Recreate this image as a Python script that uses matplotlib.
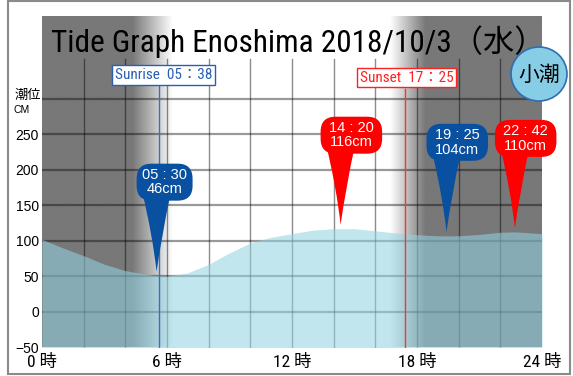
import numpy as np
import matplotlib.pyplot as plt
import matplotlib.transforms as mtransforms
from matplotlib.patches import FancyBboxPatch, PathPatch, Ellipse, Rectangle
from matplotlib.path import Path

# tide curve (hour, cm)
hours = [0, 1, 2, 3, 4, 5, 5.5, 6, 7, 8, 9, 10, 11, 12, 13, 14, 14.5,
         15, 16, 17, 18, 19, 19.5, 20, 21, 22, 22.7, 23, 24]
tide_cm = [102, 90, 79, 67, 58, 53, 51, 50, 55, 67, 83, 97, 105, 110, 115, 117, 117,
           117, 114, 111, 108.5, 107, 107, 107, 109, 112, 112.5, 112, 110]

# high / low tide labels
peak_hours = [5.5, 14 + 20 / 60, 19 + 25 / 60, 22 + 42 / 60]
peak_times = ['05 : 30', '14 : 20', '19 : 25', '22 : 42']
peak_cm = [46, 116, 104, 110]
peak_kind = ['low', 'high', 'low', 'high']

sunrise = 5 + 38 / 60
sunset = 17 + 25 / 60

xtick_vals = [0, 6, 12, 18, 24]
xtick_labels = ['0 時', '6 時', '12 時', '18 時', '24 時']
ytick_vals = [-50, 0, 50, 100, 150, 200, 250]
ytick_labels = ['−50', '0', '50', '100', '150', '200', '250']

NARROW = ['Roboto Condensed', 'Liberation Sans Narrow', 'Liberation Sans', 'Noto Sans CJK JP']
SANS = ['Liberation Sans', 'Noto Sans CJK JP']
CJK = ['Noto Sans CJK JP', 'DejaVu Sans']

W, H = 573, 376
fig = plt.figure(figsize=(W / 100, H / 100), dpi=100)
ax = fig.add_axes([42 / W, 1 - 347.5 / H, 500 / W, 331.5 / H])
YTOP = 416

# day / night shading
dark = 0.47
xs = np.linspace(0, 24, 800)
shade = np.interp(xs, [0, sunrise - 1.3, sunrise + 0.65, sunset - 0.7, sunset + 1.0, 24],
                  [dark, dark, 1, 1, dark, dark])
ax.imshow(shade[None, :], extent=[0, 24, -50, YTOP], aspect='auto', cmap='gray',
          vmin=0, vmax=1, zorder=0, interpolation='bilinear')

# grid
for h in range(2, 24, 2):
    ax.plot([h, h], [-50, 355], color='k', alpha=0.45, lw=1, zorder=1)
for v in range(0, 301, 50):
    ax.axhline(v, color='k', alpha=0.4, lw=1.6, zorder=1)

# water
ax.fill_between(hours, tide_cm, -50, color='#92d3e2', alpha=0.57, lw=0, zorder=2)

# sunrise / sunset
ax.plot([sunrise, sunrise], [-50, 318], color='#3a6fc0', lw=1, zorder=3)
ax.plot([sunset, sunset], [-50, 314], color='#ff3030', lw=1, zorder=3)
ax.text(sunrise + 0.2, 333, 'Sunrise  05：38', ha='center', va='center', color='#2a5fb0',
        fontsize=11, family=NARROW, zorder=6,
        bbox=dict(boxstyle='square,pad=0.17', fc='white', ec='#2a5fb0', lw=1))
ax.text(sunset + 0.1, 329, 'Sunset  17：25', ha='center', va='center', color='#ff2020',
        fontsize=11, family=NARROW, zorder=6,
        bbox=dict(boxstyle='square,pad=0.17', fc='white', ec='#ff2020', lw=1))


def p(a):
    return a / 100.0


def balloon(t, time_txt, cm, kind):
    color = '#0a50a0' if kind == 'low' else '#ff0000'
    v = np.interp(t, hours, tide_cm)
    tr = fig.dpi_scale_trans + mtransforms.ScaledTranslation(t, v, ax.transData)
    tip = 4
    verts = [(p(-14), p(tip + 78)), (p(-4), p(tip + 36)), (p(0), p(tip)),
             (p(5), p(tip + 36)), (p(14), p(tip + 78)), (p(-14), p(tip + 78))]
    codes = [Path.MOVETO, Path.CURVE3, Path.CURVE3, Path.CURVE3, Path.CURVE3, Path.CLOSEPOLY]
    ax.add_patch(PathPatch(Path(verts, codes), fc=color, ec='none', transform=tr,
                           zorder=4, clip_on=False))
    label = f'{cm}cm'
    w = 34 + 5.5 * len(label)
    bh = 37
    ax.add_patch(FancyBboxPatch((p(-20), p(tip + 71)), p(w), p(bh),
                                boxstyle=f'round,pad=0,rounding_size={p(15)}',
                                fc=color, ec='none', transform=tr, zorder=4, clip_on=False))
    ax.text(p(-20 + w / 2), p(tip + 71 + bh / 2), f'{time_txt}\n{label}', transform=tr,
            ha='center', va='center', color='white', fontsize=10.5, family=SANS,
            linespacing=1.05, zorder=5, clip_on=False)


for t, tt, cm, k in zip(peak_hours, peak_times, peak_cm, peak_kind):
    balloon(t, tt, cm, k)

ax.set_xlim(0, 24)
ax.set_ylim(-50, YTOP)
ax.set_xticks(xtick_vals, labels=xtick_labels)
ax.set_yticks(ytick_vals, labels=ytick_labels)
ax.tick_params(axis='x', length=0, pad=4.5, labelsize=12.5)
ax.tick_params(axis='y', length=0, pad=2.2, labelsize=10)
for lab in ax.get_xticklabels():
    lab.set_family(NARROW)
for lab in ax.get_yticklabels():
    lab.set_family(SANS)
for s in ax.spines.values():
    s.set_visible(False)

# title and side labels
fig.text(298 / W, 1 - 52 / H, 'Tide Graph Enoshima 2018/10/3（水）', ha='center',
         va='baseline', fontsize=22.5, family=NARROW)
fig.text(28 / W, 1 - 96 / H, '潮位', ha='center', va='center', fontsize=9.5, family=CJK)
fig.text(14 / W, 1 - 110 / H, 'CM', ha='left', va='center', fontsize=7.5, family=SANS)

# spring/neap badge
fig.add_artist(Ellipse((539 / W, 1 - 74 / H), 56 / W, 54 / H, transform=fig.transFigure,
                       fc='#87cde6', ec='#2e6db4', lw=1.2, zorder=5))
fig.text(539 / W, 1 - 75 / H, '小潮', ha='center', va='center', fontsize=15,
         family=CJK, zorder=6)

# outer frame
fig.add_artist(Rectangle((8 / W, 1 - 374 / H), 562 / W, 373 / H, transform=fig.transFigure,
                         fill=False, ec='#8a8a8a', lw=1.5, zorder=7))

fig.savefig('out.png', dpi=100)
